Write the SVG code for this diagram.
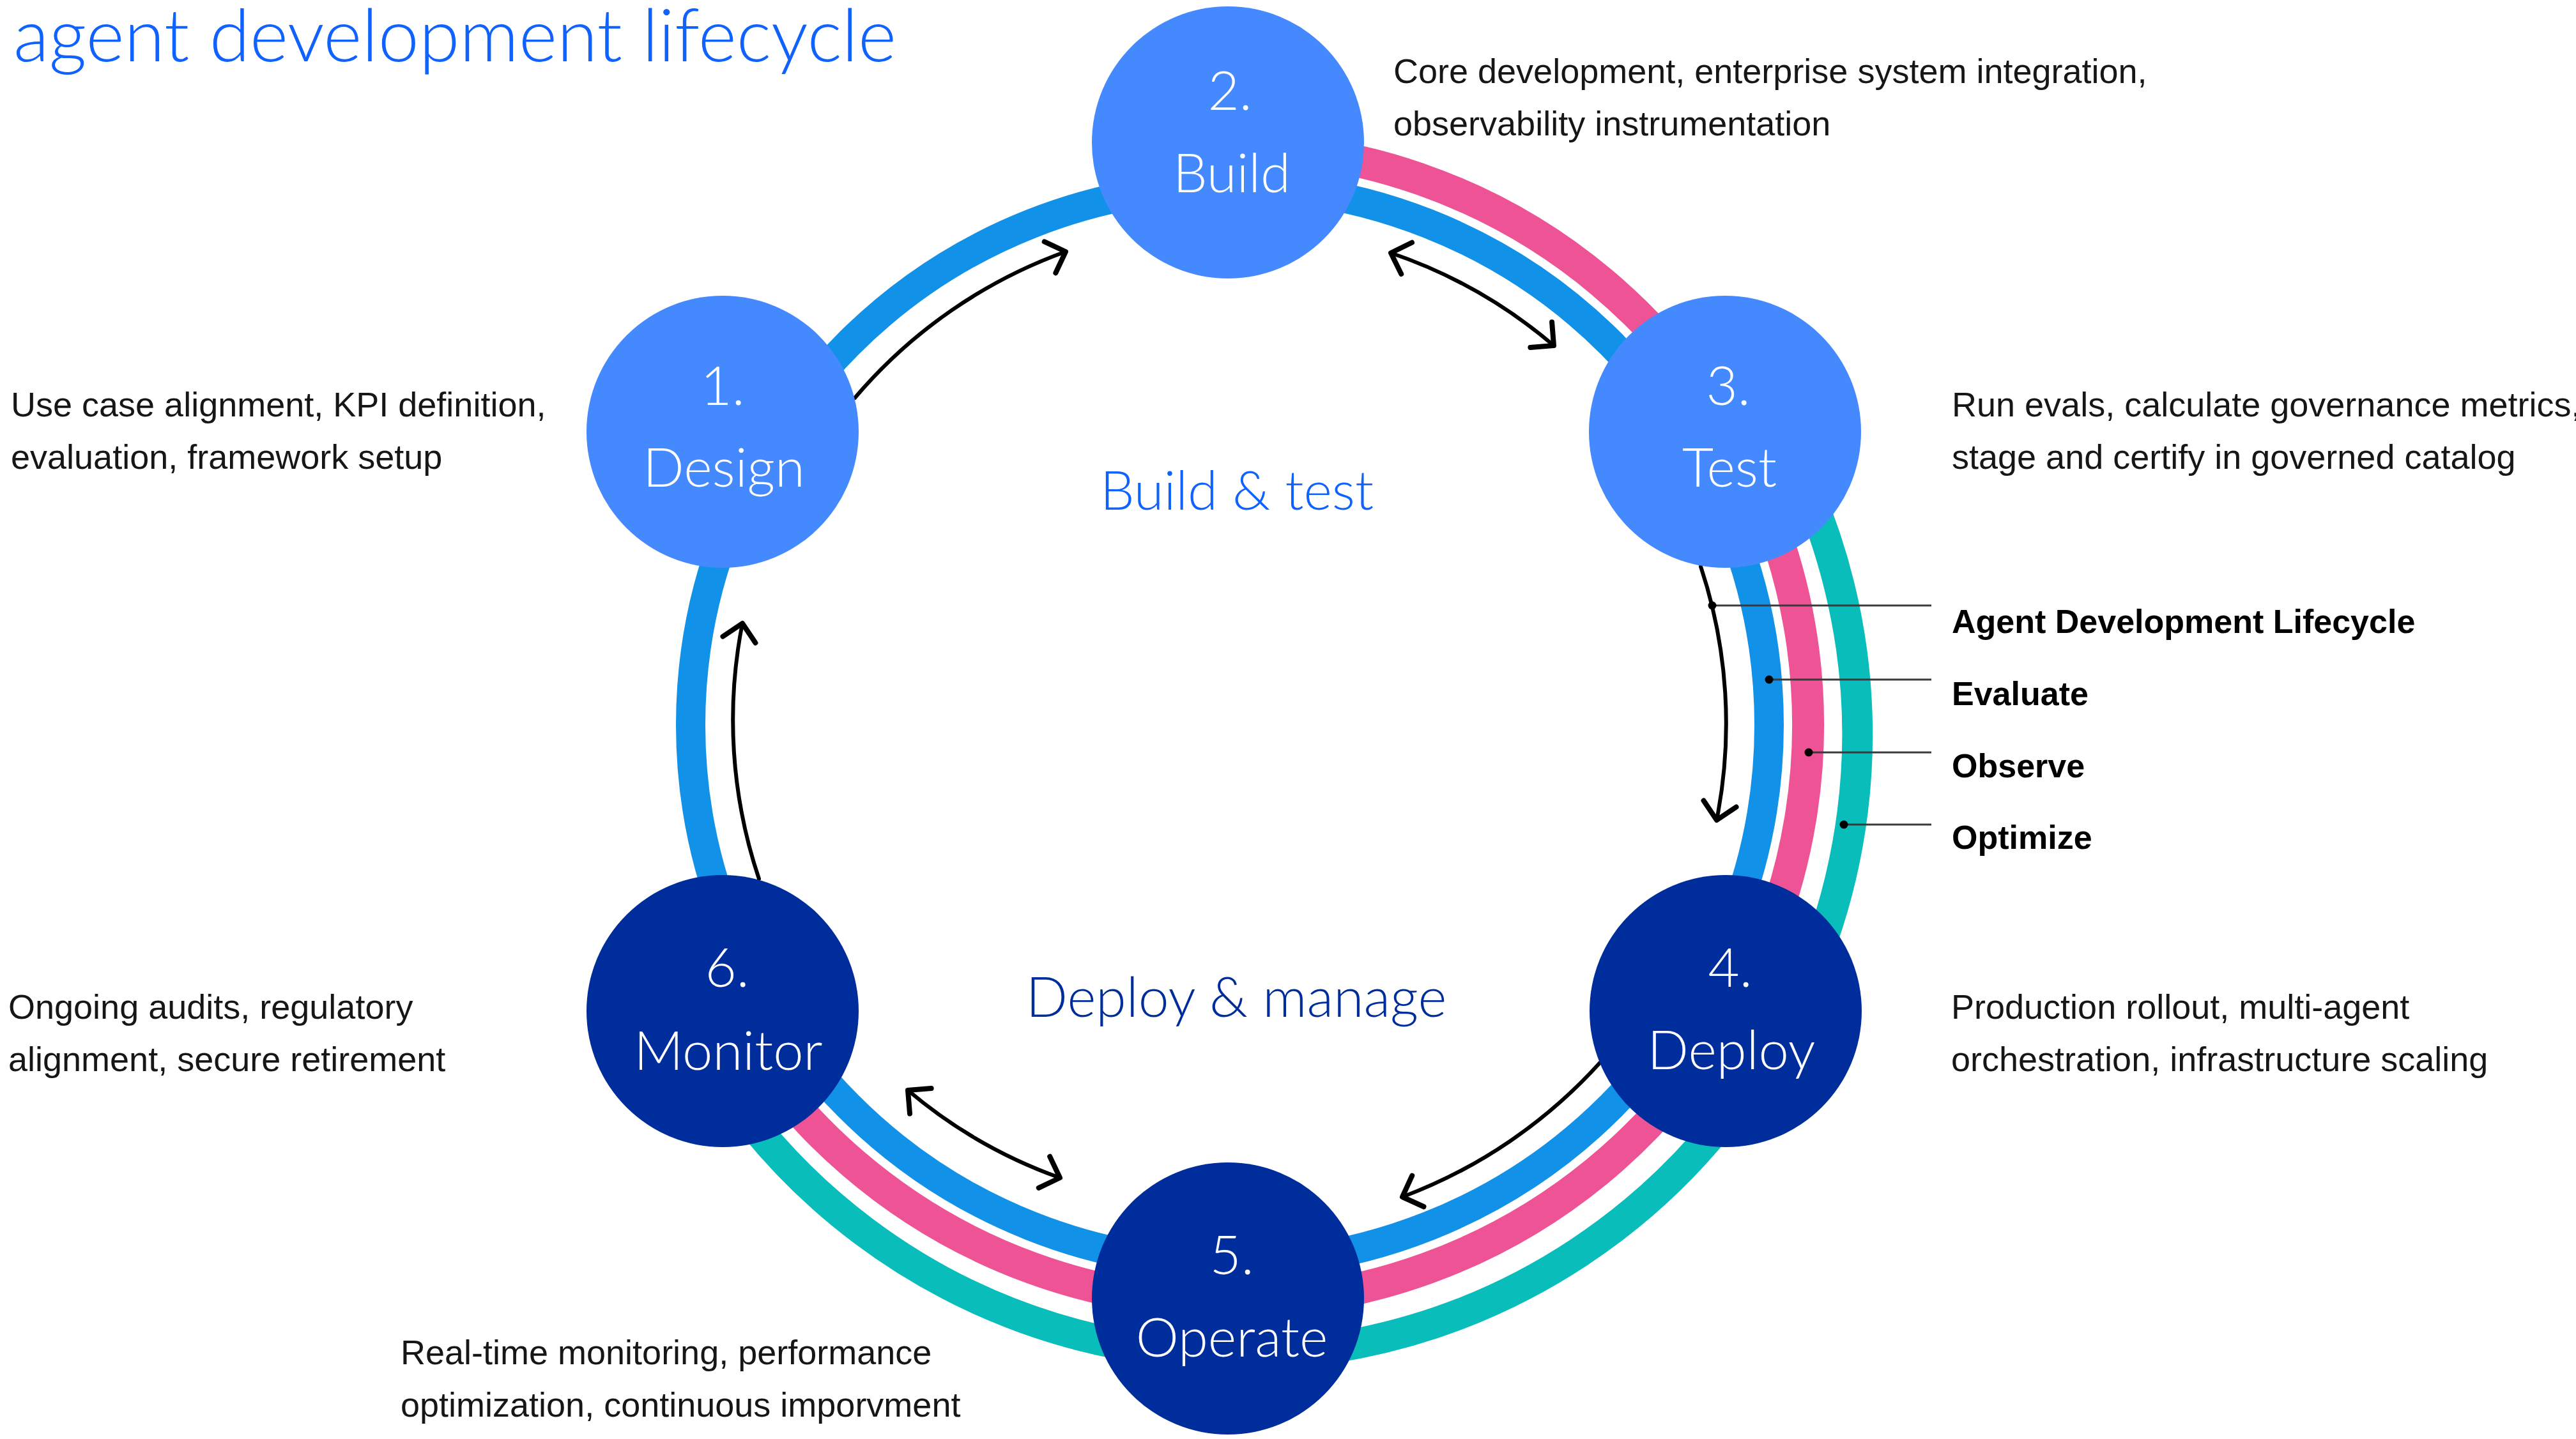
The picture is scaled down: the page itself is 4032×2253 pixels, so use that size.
<svg xmlns="http://www.w3.org/2000/svg" width="4032" height="2253" viewBox="0 0 4032 2253">
<style>
.light{font-family:Lato,"Liberation Sans",sans-serif;font-weight:300}
.body{font-family:"Liberation Sans",Arial,sans-serif;font-size:54px;fill:#161616}
.legend{font-family:"Liberation Sans",Arial,sans-serif;font-size:52px;font-weight:bold;fill:#000}
.num{font-size:85px;fill:#fff;text-anchor:middle}
.ring{fill:none}
.arrow{fill:none;stroke:#000;stroke-width:6;stroke-linecap:round}
.lead{stroke:#3a3a3a;stroke-width:3}
.dot{fill:#000}
.nodeL{fill:#4589ff}
.nodeD{fill:#002d9c}
</style>
<defs>
<marker id="ah" markerUnits="userSpaceOnUse" viewBox="-40 -40 80 80" markerWidth="80" markerHeight="80" refX="0" refY="0" orient="auto-start-reverse">
<path d="M-26,-26 L0,0 L-26,26" fill="none" stroke="#000" stroke-width="8" stroke-linecap="round" stroke-linejoin="round"/>
</marker>
</defs>
<rect width="4032" height="2253" fill="#fff"/>
<text class="light" x="21" y="96" font-size="115" fill="#0f62fe">agent development lifecycle</text>

<g id="rings">
<circle class="ring" cx="1925" cy="1135" r="844" stroke="#1192e8" stroke-width="46"/>
<path class="ring" d="M1925,230 A905,905 0 1 1 1141,1587" stroke="#ee5396" stroke-width="50"/>
<path class="ring" d="M2721,578 A972,972 0 1 1 1101,1649" stroke="#08bdba" stroke-width="48"/>
</g>

<g id="connectors">
<path class="arrow" d="M1338,623 A780,780 0 0 1 1668,394" marker-end="url(#ah)"/>
<path class="arrow" d="M2177,396 A780,780 0 0 1 2432,541" marker-start="url(#ah)" marker-end="url(#ah)"/>
<path class="arrow" d="M2662,887 A780,780 0 0 1 2687,1284" marker-end="url(#ah)"/>
<path class="arrow" d="M2505,1663 A790,790 0 0 1 2195,1874" marker-end="url(#ah)"/>
<path class="arrow" d="M1421,1707 A765,765 0 0 0 1659,1844" marker-start="url(#ah)" marker-end="url(#ah)"/>
<path class="arrow" d="M1188,1376 A780,780 0 0 1 1162,976" marker-end="url(#ah)"/>
</g>

<g id="legend">
<line class="lead" x1="2680" y1="948" x2="3023" y2="948"/>
<circle class="dot" cx="2680" cy="948" r="6.5"/>
<line class="lead" x1="2769" y1="1064" x2="3023" y2="1064"/>
<circle class="dot" cx="2769" cy="1064" r="6.5"/>
<line class="lead" x1="2831" y1="1178" x2="3023" y2="1178"/>
<circle class="dot" cx="2831" cy="1178" r="6.5"/>
<line class="lead" x1="2886" y1="1291" x2="3023" y2="1291"/>
<circle class="dot" cx="2886" cy="1291" r="6.5"/>
<text class="legend" x="3055" y="991">Agent Development Lifecycle</text>
<text class="legend" x="3055" y="1104">Evaluate</text>
<text class="legend" x="3055" y="1217">Observe</text>
<text class="legend" x="3055" y="1329">Optimize</text>
</g>

<g id="node-design">
<circle class="nodeL" cx="1131" cy="676" r="213"/>
<text class="light num" x="1131" y="634">1.</text>
<text class="light num" x="1133" y="762">Design</text>
</g>
<g id="node-build">
<circle class="nodeL" cx="1922" cy="223" r="213"/>
<text class="light num" x="1925" y="172">2.</text>
<text class="light num" x="1928" y="301">Build</text>
</g>
<g id="node-test">
<circle class="nodeL" cx="2700" cy="676" r="213"/>
<text class="light num" x="2705" y="634">3.</text>
<text class="light num" x="2707" y="762">Test</text>
</g>
<g id="node-deploy">
<circle class="nodeD" cx="2701" cy="1583" r="213"/>
<text class="light num" x="2708" y="1545">4.</text>
<text class="light num" x="2710" y="1674">Deploy</text>
</g>
<g id="node-operate">
<circle class="nodeD" cx="1922" cy="2033" r="213"/>
<text class="light num" x="1928" y="1995">5.</text>
<text class="light num" x="1928" y="2124">Operate</text>
</g>
<g id="node-monitor">
<circle class="nodeD" cx="1131" cy="1583" r="213"/>
<text class="light num" x="1138" y="1545">6.</text>
<text class="light num" x="1140" y="1675">Monitor</text>
</g>

<g id="phase-labels">
<text class="light" x="1936" y="798" font-size="85" fill="#0f62fe" text-anchor="middle">Build &amp; test</text>
<text class="light" x="1935" y="1592" font-size="86" fill="#002d9c" text-anchor="middle">Deploy &amp; manage</text>
</g>

<g id="descriptions">
<text class="body" x="17" y="652">Use case alignment, KPI definition,</text>
<text class="body" x="17" y="734">evaluation, framework setup</text>
<text class="body" x="2181" y="130">Core development, enterprise system integration,</text>
<text class="body" x="2181" y="212">observability instrumentation</text>
<text class="body" x="3055" y="652">Run evals, calculate governance metrics,</text>
<text class="body" x="3055" y="734">stage and certify in governed catalog</text>
<text class="body" x="3054" y="1595">Production rollout, multi-agent</text>
<text class="body" x="3054" y="1677">orchestration, infrastructure scaling</text>
<text class="body" x="627" y="2136">Real-time monitoring, performance</text>
<text class="body" x="627" y="2218">optimization, continuous imporvment</text>
<text class="body" x="13" y="1595">Ongoing audits, regulatory</text>
<text class="body" x="13" y="1677">alignment, secure retirement</text>
</g>
</svg>
